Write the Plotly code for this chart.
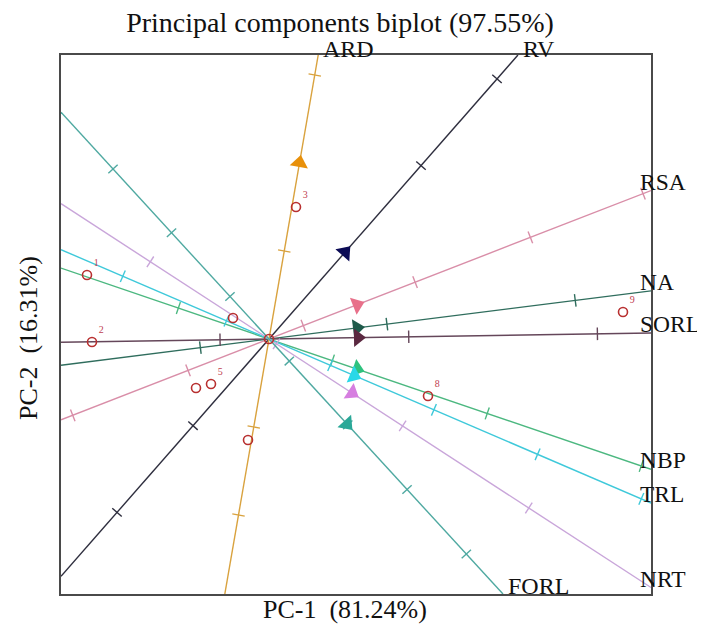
import numpy as np
import plotly.graph_objects as go

# ---------------- data ----------------
variables = ["RV", "ARD", "RSA", "NA", "SORL", "NBP", "TRL", "NRT", "FORL"]
pc1_load = [0.76, 0.305, 0.88, 0.88, 0.89, 0.88, 0.85, 0.83, 0.78]
pc2_load = [0.867, 1.76, 0.342, 0.111, 0.014, -0.30, -0.365, -0.54, -0.85]
line_colors = ["#2e2e3e", "#d9a23e", "#d98ea8", "#2f6d5d", "#65475a",
               "#4cb880", "#3fc9da", "#c9a6da", "#4fa9a1"]
arrow_colors = ["#0b0b55", "#e8900a", "#e8708a", "#1e5a4a", "#5a2840",
                "#2ec27e", "#2ad8e8", "#d67ee0", "#2aa898"]
# calibration tick positions along each variable axis (in multiples of the loading vector)
tick_pos = [
    [-2.0, -1.0, 2.0, 3.0],
    [-1.0, -0.5, 0.5, 1.5],
    [-2.23, -0.92, 0.39, 1.66, 2.97, 4.25],
    [-0.78, 1.34, 3.48],
    [-0.55, 1.57, 3.69],
    [-1.03, 0.72, 2.48, 4.23],
    [-1.72, -0.5, 0.72, 1.94, 3.16, 4.38],
    [-1.43, 0.09, 1.61, 3.13],
    [-2.0, -1.25, -0.5, 0.26, 1.01, 1.77, 2.53],
]

obs_names = ["1", "2", "3", "4", "5", "6", "7", "8", "9", "10"]
obs_pc1 = [-1.82, -1.77, 0.27, -0.36, -0.58, -0.73, -0.21, 1.59, 3.54, 0.0]
obs_pc2 = [0.64, -0.03, 1.32, 0.21, -0.45, -0.49, -1.01, -0.57, 0.27, 0.0]
obs_shown = ["1", "2", "3", "", "5", "", "", "8", "9", ""]

x_range = [-2.08, 3.82]
y_range = [-2.55, 2.84]

title_text = "Principal components biplot (97.55%)"
xlab = "PC-1  (81.24%)"
ylab = "PC-2  (16.31%)"

SERIF = "Liberation Serif, Times New Roman, serif"

# page offset of the figure (default body margin of the html page)
OFF = 8
W, H = 705 - OFF, 626 - OFF
pl, pr, pt, pb = 61, 651, 55, 594  # plot area in page pixels

fig = go.Figure()


def clip_t(vx, vy):
    tpos, tneg = [], []
    for v, lo, hi in ((vx, x_range[0], x_range[1]), (vy, y_range[0], y_range[1])):
        if abs(v) < 1e-12:
            continue
        for b in (lo, hi):
            t = b / v
            (tpos if t > 0 else tneg).append(t)
    return max(tneg), min(tpos)


annotations = []
for name, vx, vy, lc, ac, ticks in zip(variables, pc1_load, pc2_load,
                                        line_colors, arrow_colors, tick_pos):
    t0, t1 = clip_t(vx, vy)
    ang = np.degrees(np.arctan2(vy, vx))
    fig.add_trace(go.Scatter(x=[t0 * vx, t1 * vx], y=[t0 * vy, t1 * vy], mode="lines",
                             line=dict(color=lc, width=1.4), hoverinfo="skip",
                             showlegend=False))
    tk = [t for t in ticks if t0 < t < t1]
    fig.add_trace(go.Scatter(x=[t * vx for t in tk], y=[t * vy for t in tk], mode="markers",
                             marker=dict(symbol="line-ns-open", size=9, angle=-ang,
                                         color=lc, line=dict(color=lc, width=1.4)),
                             hoverinfo="skip", showlegend=False))
    fig.add_trace(go.Scatter(x=[vx], y=[vy], mode="markers",
                             marker=dict(symbol="triangle-up", size=16, angle=90 - ang,
                                         color=ac, line=dict(width=0)),
                             name=name, showlegend=False))
    ex, ey = t1 * vx, t1 * vy
    on_right = abs(ex - x_range[1]) < 1e-9
    on_top = abs(ey - y_range[1]) < 1e-9
    if on_right:
        xs, ys, fs = -13, 9, 23.5
    elif on_top:
        xs, ys, fs = 3, 6, 24
    else:
        xs, ys, fs = 3, 8, 24
    annotations.append(dict(x=ex, y=ey, xref="x", yref="y", text=name, showarrow=False,
                            xanchor="left", yanchor="middle", xshift=xs, yshift=ys,
                            font=dict(family=SERIF, size=fs, color="#111111")))

fig.add_trace(go.Scatter(x=obs_pc1, y=obs_pc2, mode="markers+text", text=obs_shown,
                         textposition="top right",
                         textfont=dict(family=SERIF, size=10, color="#c04050"),
                         marker=dict(symbol="circle-open", size=9, color="#b83030",
                                     line=dict(color="#b83030", width=1.6)),
                         hovertext=obs_names, showlegend=False))

# axis titles (positions in page pixels, converted to plot-area paper coordinates)
annotations.append(dict(x=(345 - pl) / (pr - pl), y=(pb - 609) / (pb - pt),
                        xref="paper", yref="paper", xanchor="center", yanchor="middle",
                        text=xlab, showarrow=False,
                        font=dict(family=SERIF, size=26, color="#111111")))
annotations.append(dict(x=(29 - pl) / (pr - pl), y=(pb - 338) / (pb - pt),
                        xref="paper", yref="paper", xanchor="center", yanchor="middle",
                        text=ylab, textangle=-90, showarrow=False,
                        font=dict(family=SERIF, size=26, color="#111111")))

fig.update_layout(
    width=W, height=H,
    margin=dict(l=pl - OFF, r=705 - pr, t=pt - OFF, b=626 - pb),
    paper_bgcolor="white", plot_bgcolor="white",
    title=dict(text=title_text, x=(340 - OFF) / W, xref="container", xanchor="center",
               y=1 - (22 - OFF) / H, yref="container", yanchor="middle",
               font=dict(family=SERIF, size=28, color="#111111")),
    xaxis=dict(range=x_range, showgrid=False, zeroline=False, showticklabels=False,
               ticks="", showline=True, mirror=True, linecolor="#4a4a4a", linewidth=2),
    yaxis=dict(range=y_range, showgrid=False, zeroline=False, showticklabels=False,
               ticks="", showline=True, mirror=True, linecolor="#4a4a4a", linewidth=2),
    annotations=annotations,
)

fig.write_html("out.html")
